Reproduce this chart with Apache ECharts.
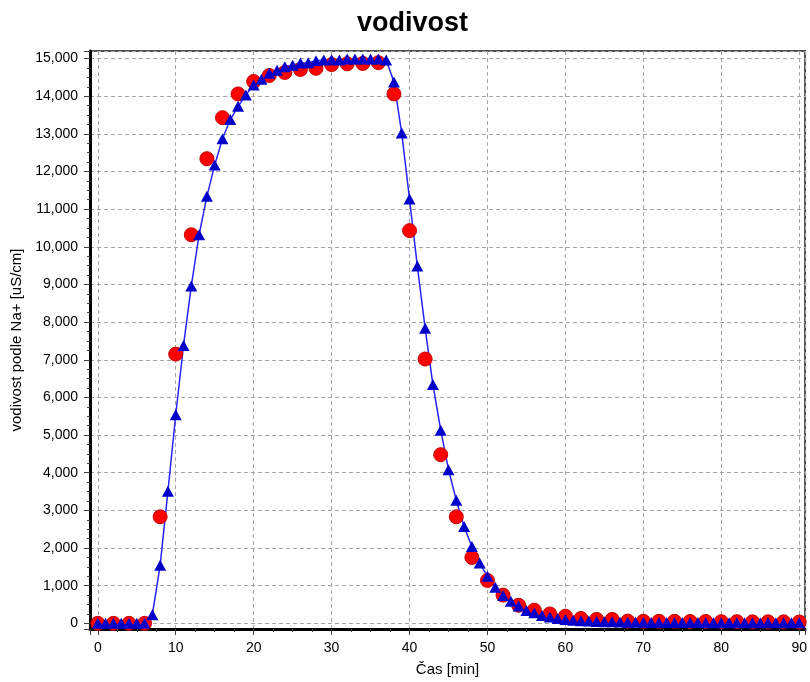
<!DOCTYPE html>
<html>
<head>
<meta charset="utf-8">
<title>vodivost</title>
<script src="https://cdn.jsdelivr.net/npm/echarts@6/dist/echarts.min.js"></script>
<style>
  html, body { margin: 0; padding: 0; background: #ffffff; }
  #chart { width: 810px; height: 682px; }
</style>
</head>
<body>
<div id="chart"></div>
<script>
// Conductivity measured every 2 min (red circles)
const measTimes = [0, 2, 4, 6, 8, 10, 12, 14, 16, 18, 20, 22, 24, 26, 28, 30, 32, 34, 36, 38,
  40, 42, 44, 46, 48, 50, 52, 54, 56, 58, 60, 62, 64, 66, 68, 70, 72, 74, 76, 78, 80, 82, 84, 86, 88, 90];
const measValues = [0, 0, 0, 0, 2830, 7150, 10320, 12340, 13430, 14060, 14390, 14550, 14630, 14710, 14740, 14840, 14860, 14870, 14890, 14060,
  10430, 7020, 4480, 2830, 1750, 1140, 750, 480, 350, 250, 190, 130, 105, 105, 60, 55, 55, 55, 50, 50, 45, 45, 40, 40, 40, 35];

// Model curve, one value per minute (blue triangles joined by a line)
const modelTimes = [0, 1, 2, 3, 4, 5, 6, 7, 8, 9, 10, 11, 12, 13, 14, 15, 16, 17, 18, 19, 20, 21, 22, 23, 24, 25, 26, 27, 28, 29,
  30, 31, 32, 33, 34, 35, 36, 37, 38, 39, 40, 41, 42, 43, 44, 45, 46, 47, 48, 49, 50, 51, 52, 53, 54, 55, 56, 57, 58, 59,
  60, 61, 62, 63, 64, 65, 66, 67, 68, 69, 70, 71, 72, 73, 74, 75, 76, 77, 78, 79, 80, 81, 82, 83, 84, 85, 86, 87, 88, 89, 90];
const modelValues = [0, 0, 0, 0, 0, 0, 0, 230, 1540, 3510, 5540, 7380, 8960, 10320, 11340, 12170, 12870, 13380, 13730, 14030,
  14300, 14450, 14610, 14690, 14780, 14820, 14880, 14890, 14940, 14960, 14970, 14960, 14990, 14990, 14990, 14990, 14990, 14960, 14380, 13020,
  11270, 9490, 7840, 6340, 5130, 4080, 3270, 2570, 2040, 1600, 1250, 960, 740, 590, 460, 340, 280, 210, 170, 130,
  105, 85, 70, 60, 50, 45, 40, 35, 30, 28, 26, 25, 24, 23, 22, 21, 20, 20, 19, 19,
  18, 18, 17, 17, 16, 16, 15, 15, 15, 15, 15];

const chartTitle = 'vodivost';
const xName = 'Čas [min]';
const yName = 'vodivost podle Na+ [uS/cm]';

const measData = measTimes.map((t, i) => [t, measValues[i]]);
const modelData = modelTimes.map((t, i) => [t, modelValues[i]]);

const FONT = '"Liberation Sans", Arial, sans-serif';
const gridDash = { color: '#a4a4a4', width: 1, type: [4, 3] };

const chart = echarts.init(document.getElementById('chart'), null, { renderer: 'canvas' });
chart.setOption({
  animation: false,
  backgroundColor: '#ffffff',
  title: {
    text: chartTitle,
    left: 352,
    top: 5,
    textStyle: { fontFamily: FONT, fontSize: 27, fontWeight: 'bold', color: '#000000' }
  },
  grid: {
    left: 90, right: 1, top: 51, bottom: 49,
    show: true, borderColor: '#505050', borderWidth: 2, backgroundColor: '#ffffff'
  },
  xAxis: {
    type: 'value',
    min: -1, max: 90.75,
    splitNumber: 9,
    name: xName,
    nameLocation: 'middle',
    nameGap: 33,
    nameTextStyle: { fontFamily: FONT, fontSize: 15, color: '#000000' },
    axisLine: { show: true, onZero: false, lineStyle: { color: '#000000', width: 3 } },
    axisTick: { show: true, inside: false, length: 6, lineStyle: { color: '#404040', width: 1 } },
    minorTick: { show: true, splitNumber: 4, length: 3, lineStyle: { color: '#404040', width: 1 } },
    axisLabel: { showMinLabel: false, showMaxLabel: false, margin: 12, fontFamily: FONT, fontSize: 14, color: '#000000' },
    splitLine: { show: true, lineStyle: gridDash }
  },
  yAxis: {
    type: 'value',
    min: -150, max: 15200,
    splitNumber: 15,
    name: yName,
    nameLocation: 'middle',
    nameGap: 62,
    nameTextStyle: { fontFamily: FONT, fontSize: 15, color: '#000000' },
    axisLine: { show: true, onZero: false, lineStyle: { color: '#000000', width: 3 } },
    axisTick: { show: true, inside: false, length: 6, lineStyle: { color: '#404040', width: 1 } },
    minorTick: { show: true, splitNumber: 4, length: 3, lineStyle: { color: '#404040', width: 1 } },
    axisLabel: {
      showMinLabel: false, showMaxLabel: false, margin: 12,
      fontFamily: FONT, fontSize: 14, color: '#000000',
      formatter: v => v.toLocaleString('en-US')
    },
    splitLine: { show: true, lineStyle: gridDash }
  },
  series: [
    {
      name: 'model line',
      type: 'line',
      data: modelData,
      showSymbol: false,
      symbol: 'none',
      clip: false,
      z: 2,
      lineStyle: { color: '#2424ff', width: 1.5 },
      emphasis: { disabled: true }
    },
    {
      name: 'measured',
      type: 'scatter',
      data: measData,
      symbol: 'circle',
      symbolSize: 14,
      clip: false,
      z: 3,
      itemStyle: { color: '#ff0000', borderColor: '#c40000', borderWidth: 1, opacity: 1 },
      emphasis: { disabled: true }
    },
    {
      name: 'model',
      type: 'scatter',
      data: modelData,
      symbol: 'triangle',
      symbolSize: [12, 11],
      clip: false,
      z: 4,
      itemStyle: { color: '#0000c8', opacity: 1 },
      emphasis: { disabled: true }
    }
  ]
});
</script>
</body>
</html>
